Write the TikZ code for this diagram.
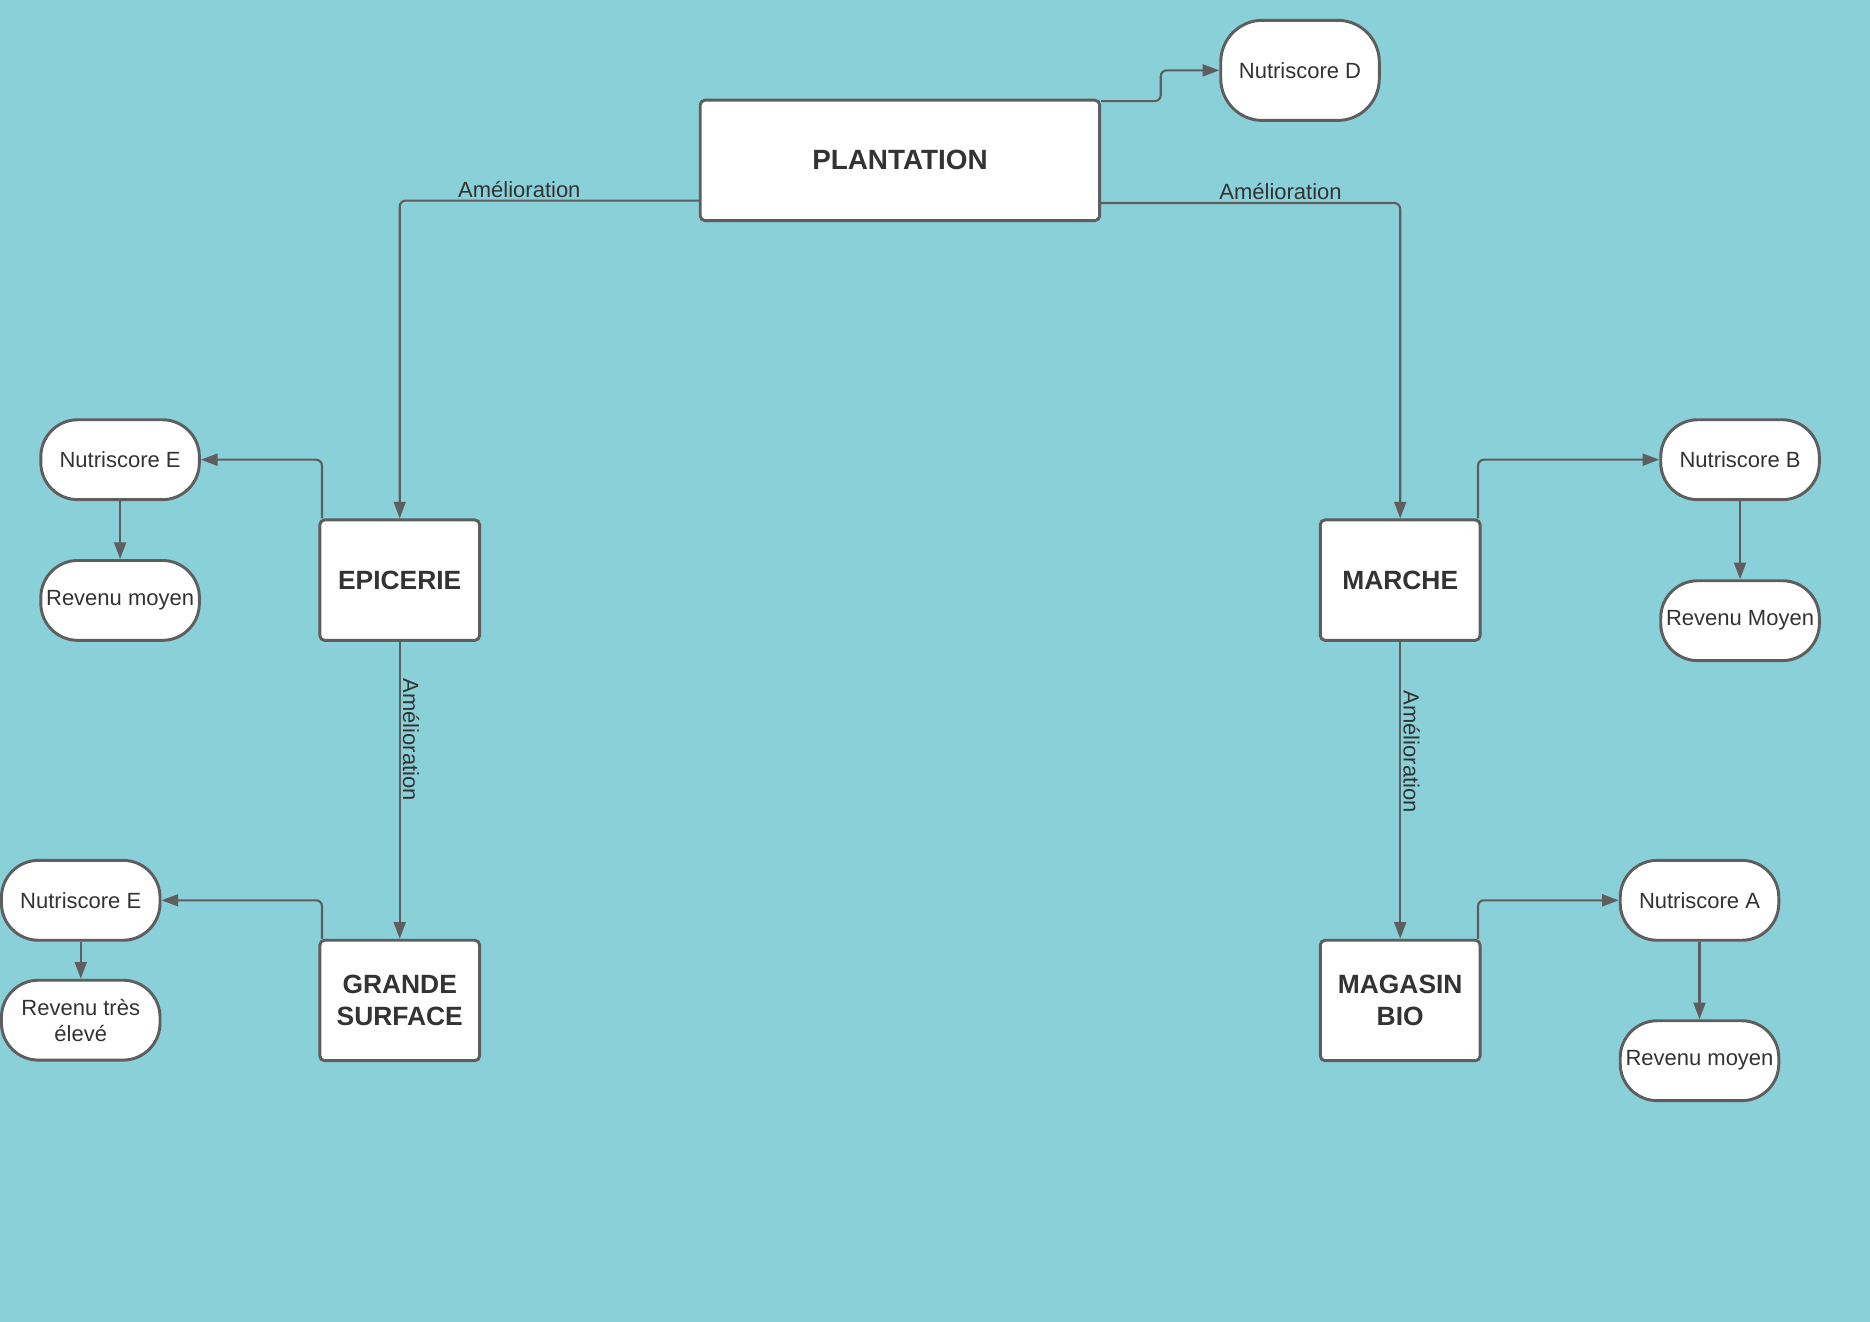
\documentclass[tikz,border=0pt]{standalone}
\usepackage{fontspec}
\setmainfont{Liberation Sans}
\usetikzlibrary{arrows.meta}
\definecolor{lucidbg}{RGB}{137,208,216}
\definecolor{lucidline}{RGB}{94,94,94}
\definecolor{lucidtext}{RGB}{51,51,51}

\begin{document}
\begin{tikzpicture}[x=0.02cm, y=-0.02cm,
        place/.style={draw=lucidline, fill=white, line width=1.4pt, rounded corners=0.08cm, minimum width=2.68cm, minimum height=2.02cm, inner sep=0, align=center, text=lucidtext, font=\fontsize{12.6}{15.4}\selectfont\bfseries},
        score/.style={draw=lucidline, fill=white, line width=1.4pt, rounded corners=0.62cm, minimum width=2.66cm, minimum height=1.34cm, inner sep=0, align=center, text=lucidtext, font=\fontsize{10.5}{12.5}\selectfont},
        link/.style={draw=lucidline, line width=1pt, rounded corners=0.1cm, -{Triangle[length=0.28cm, width=0.2cm]}},
        upgrade/.style={text=lucidtext, font=\fontsize{10.5}{12.5}\selectfont, inner sep=1pt}]
        \fill[lucidbg] (0, 0) rectangle (1568, 1108.5);
        \node[place, minimum width=6.7cm, font=\fontsize{13.3}{16}\selectfont\bfseries] (plant) at (754.5, 134.5) {PLANTATION};
        \node[score, minimum height=1.68cm, rounded corners=0.7cm] (nsD) at (1090, 59) {Nutriscore D};
        \node[place] (epic) at (335, 486.5) {EPICERIE};
        \node[place] (grande) at (335, 839) {GRANDE\\SURFACE};
        \node[place] (march) at (1174, 486.5) {MARCHE};
        \node[place] (bio) at (1174, 839) {MAGASIN\\BIO};
        \node[score] (nsE1) at (100.5, 385.5) {Nutriscore E};
        \node[score] (revE1) at (100.5, 503.5) {Revenu moyen};
        \node[score] (nsE2) at (67.5, 755) {Nutriscore E};
        \node[score] (revE2) at (67.5, 855.5) {Revenu très\\élevé};
        \node[score] (nsB) at (1459, 385.5) {Nutriscore B};
        \node[score] (revB) at (1459, 520.5) {Revenu Moyen};
        \node[score] (nsA) at (1425, 755) {Nutriscore A};
        \node[score] (revA) at (1425, 889.5) {Revenu moyen};
        \draw[link] ([yshift=-0.04cm]plant.north east) -- ++(50, 0) |- (nsD.west);
        \draw[link] ([yshift=0.36cm]plant.south west) -| node[upgrade, pos=0.3, above] {Amélioration} (epic.north);
        \draw[link] ([yshift=0.32cm]plant.south east) -| node[upgrade, pos=0.3, above] {Amélioration} (march.north);
        \draw[link] ([xshift=0.06cm]epic.north west) |- (nsE1.east);
        \draw[link] (nsE1.south) -- (revE1.north);
        \draw[link] (epic.south) -- node[upgrade, pos=0.33, rotate=-90, anchor=south] {Amélioration} (grande.north);
        \draw[link] ([xshift=0.06cm]grande.north west) |- (nsE2.east);
        \draw[link] (nsE2.south) -- (revE2.north);
        \draw[link] ([xshift=-0.06cm]march.north east) |- (nsB.west);
        \draw[link] (nsB.south) -- (revB.north);
        \draw[link] (march.south) -- node[upgrade, pos=0.37, rotate=-90, anchor=south] {Amélioration} (bio.north);
        \draw[link] ([xshift=-0.06cm]bio.north east) |- (nsA.west);
        \draw[link] (nsA.south) -- (revA.north);
    \end{tikzpicture}
\end{document}
